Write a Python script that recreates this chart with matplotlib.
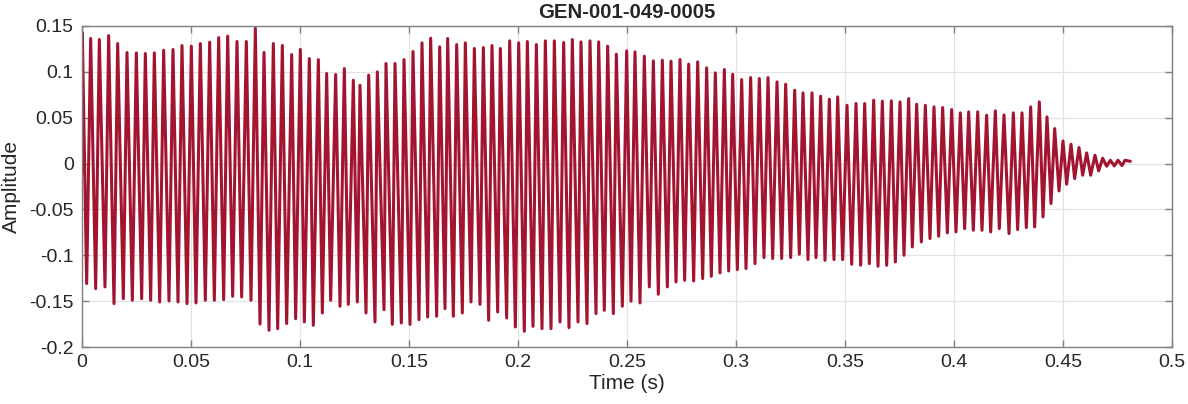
import matplotlib
matplotlib.use("Agg")
import matplotlib.pyplot as plt
import numpy as np

title = "GEN-001-049-0005"
x_label = "Time (s)"
y_label = "Amplitude"

start_time = [0.0]
start_amp = [-0.010]

peak_times = [
    0.00015, 0.00398, 0.00795, 0.01223, 0.01636, 0.02064, 0.02492, 0.02905, 0.03318, 0.03746,
    0.04174, 0.04587, 0.05015, 0.05428, 0.05856, 0.06269, 0.06682, 0.07110, 0.07538, 0.07951,
    0.08349, 0.08777, 0.09189, 0.09618, 0.10015, 0.10428, 0.10841, 0.11223, 0.11636, 0.12034,
    0.12446, 0.12752, 0.13150, 0.13547, 0.13945, 0.14358, 0.14771, 0.15183, 0.15596, 0.15994,
    0.16407, 0.16774, 0.17187, 0.17584, 0.17997, 0.18410, 0.18807, 0.19190, 0.19618, 0.20031,
    0.20428, 0.20841, 0.21254, 0.21667, 0.22095, 0.22492, 0.22890, 0.23303, 0.23700, 0.24113,
    0.24511, 0.24985, 0.25367, 0.25795, 0.26208, 0.26621, 0.27018, 0.27431, 0.27829, 0.28242,
    0.28654, 0.29052, 0.29465, 0.29847, 0.30260, 0.30673, 0.31070, 0.31468, 0.31881, 0.32278,
    0.32691, 0.33073, 0.33486, 0.33884, 0.34281, 0.34664, 0.35092, 0.35505, 0.35902, 0.36315,
    0.36713, 0.37125, 0.37523, 0.37920, 0.38287, 0.38685, 0.39083, 0.39480, 0.39893, 0.40291,
    0.40673, 0.41086, 0.41498, 0.41896, 0.42294, 0.42722, 0.43119, 0.43517, 0.43914, 0.44266,
    0.44618, 0.45000, 0.45367, 0.45734, 0.46086, 0.46468, 0.46820, 0.47171, 0.47523, 0.47844,
]
peak_amps = [
    0.1425, 0.1364, 0.1353, 0.1396, 0.1309, 0.1211, 0.1207, 0.1200, 0.1207, 0.1236,
    0.1244, 0.1287, 0.1280, 0.1309, 0.1324, 0.1374, 0.1389, 0.1331, 0.1331, 0.1476,
    0.1211, 0.1309, 0.1287, 0.1189, 0.1244, 0.1145, 0.1134, 0.0982, 0.0971, 0.1036,
    0.0909, 0.0854, 0.0964, 0.1000, 0.1091, 0.1091, 0.1134, 0.1222, 0.1316, 0.1367,
    0.1273, 0.1364, 0.1298, 0.1316, 0.1255, 0.1265, 0.1287, 0.1255, 0.1338, 0.1316,
    0.1331, 0.1298, 0.1338, 0.1338, 0.1320, 0.1353, 0.1327, 0.1338, 0.1327, 0.1280,
    0.1193, 0.1229, 0.1218, 0.1171, 0.1120, 0.1127, 0.1116, 0.1134, 0.1084, 0.1109,
    0.1044, 0.0989, 0.1025, 0.0974, 0.0916, 0.0938, 0.0927, 0.0938, 0.0891, 0.0865,
    0.0800, 0.0771, 0.0771, 0.0735, 0.0702, 0.0727, 0.0636, 0.0655, 0.0655, 0.0691,
    0.0680, 0.0684, 0.0673, 0.0709, 0.0647, 0.0636, 0.0618, 0.0611, 0.0589, 0.0553,
    0.0564, 0.0564, 0.0527, 0.0575, 0.0530, 0.0553, 0.0553, 0.0618, 0.0673, 0.0509,
    0.0382, 0.0247, 0.0211, 0.0175, 0.0116, 0.0091, 0.0058, 0.0036, 0.0036, 0.0036,
]

trough_times = [
    0.00214, 0.00627, 0.01055, 0.01468, 0.01896, 0.02309, 0.02737, 0.03150, 0.03563, 0.03991,
    0.04404, 0.04817, 0.05229, 0.05657, 0.06070, 0.06498, 0.06911, 0.07324, 0.07752, 0.08165,
    0.08578, 0.08976, 0.09388, 0.09801, 0.10199, 0.10612, 0.11024, 0.11407, 0.11835, 0.12217,
    0.12630, 0.13028, 0.13440, 0.13853, 0.14235, 0.14648, 0.15046, 0.15459, 0.15856, 0.16269,
    0.16651, 0.17034, 0.17446, 0.17844, 0.18257, 0.18654, 0.19067, 0.19480, 0.19878, 0.20290,
    0.20688, 0.21101, 0.21514, 0.21927, 0.22339, 0.22752, 0.23165, 0.23578, 0.23960, 0.24373,
    0.24786, 0.25183, 0.25596, 0.26024, 0.26437, 0.26850, 0.27248, 0.27645, 0.28058, 0.28471,
    0.28868, 0.29266, 0.29664, 0.30061, 0.30459, 0.30872, 0.31284, 0.31682, 0.32095, 0.32508,
    0.32905, 0.33303, 0.33670, 0.34083, 0.34495, 0.34893, 0.35306, 0.35719, 0.36116, 0.36514,
    0.36912, 0.37309, 0.37706, 0.38089, 0.38502, 0.38899, 0.39297, 0.39694, 0.40092, 0.40489,
    0.40887, 0.41284, 0.41682, 0.42079, 0.42523, 0.42920, 0.43318, 0.43700, 0.44083, 0.44450,
    0.44817, 0.45168, 0.45535, 0.45902, 0.46269, 0.46636, 0.47003, 0.47355, 0.47706,
]
trough_amps = [
    -0.1309, -0.1364, -0.1345, -0.1527, -0.1473, -0.1491, -0.1473, -0.1491, -0.1509, -0.1498,
    -0.1509, -0.1527, -0.1520, -0.1491, -0.1491, -0.1484, -0.1447, -0.1455, -0.1491, -0.1750,
    -0.1818, -0.1800, -0.1745, -0.1691, -0.1727, -0.1764, -0.1629, -0.1491, -0.1556, -0.1535,
    -0.1509, -0.1629, -0.1727, -0.1593, -0.1753, -0.1738, -0.1753, -0.1702, -0.1673, -0.1665,
    -0.1582, -0.1665, -0.1629, -0.1509, -0.1535, -0.1709, -0.1618, -0.1684, -0.1782, -0.1829,
    -0.1775, -0.1800, -0.1800, -0.1727, -0.1789, -0.1727, -0.1745, -0.1636, -0.1600, -0.1636,
    -0.1556, -0.1500, -0.1520, -0.1345, -0.1425, -0.1345, -0.1291, -0.1273, -0.1280, -0.1254,
    -0.1229, -0.1193, -0.1171, -0.1156, -0.1145, -0.1091, -0.1025, -0.1036, -0.1036, -0.1025,
    -0.0989, -0.1047, -0.1025, -0.1055, -0.1047, -0.1047, -0.1098, -0.1109, -0.1091, -0.1120,
    -0.1109, -0.1073, -0.1000, -0.0909, -0.0855, -0.0818, -0.0793, -0.0756, -0.0745, -0.0709,
    -0.0727, -0.0727, -0.0745, -0.0710, -0.0764, -0.0720, -0.0698, -0.0691, -0.0582, -0.0436,
    -0.0298, -0.0225, -0.0164, -0.0127, -0.0127, -0.0080, -0.0029, -0.0025, -0.0022,
]

end_time = [0.48073]
end_amp = [0.0025]

x_ticks = [0, 0.05, 0.1, 0.15, 0.2, 0.25, 0.3, 0.35, 0.4, 0.45, 0.5]
x_tick_labels = ["0", "0.05", "0.1", "0.15", "0.2", "0.25", "0.3", "0.35", "0.4", "0.45", "0.5"]
y_ticks = [-0.2, -0.15, -0.1, -0.05, 0, 0.05, 0.1, 0.15]
y_tick_labels = ["-0.2", "-0.15", "-0.1", "-0.05", "0", "0.05", "0.1", "0.15"]

# merge extremes in time order
t_all = np.array(start_time + peak_times + trough_times + end_time)
a_all = np.array(start_amp + peak_amps + trough_amps + end_amp)
order = np.argsort(t_all)
t_all = t_all[order]
a_all = a_all[order]

plt.rcParams['font.family'] = ['Liberation Sans', 'DejaVu Sans']

fig = plt.figure(figsize=(11.88, 4.04), dpi=100)
ax = fig.add_axes([82 / 1188, 1 - 347 / 404, (1172 - 82) / 1188, (347 - 26) / 404])

ax.plot(t_all, a_all, color="#A2142F", linewidth=2.2, solid_joinstyle="round")

ax.set_xlim(0, 0.5)
ax.set_ylim(-0.2, 0.15)
ax.set_xticks(x_ticks)
ax.set_xticklabels(x_tick_labels)
ax.set_yticks(y_ticks)
ax.set_yticklabels(y_tick_labels)

ax.grid(True, color="#e3e3e3", linewidth=0.9)
ax.set_axisbelow(True)
for s in ax.spines.values():
    s.set_color("#808080")
    s.set_linewidth(1.0)
ax.tick_params(direction="in", length=5, width=1, color="#808080", labelcolor="#262626",
               labelsize=14, top=True, right=True)
ax.tick_params(axis="y", pad=6)
ax.tick_params(axis="x", pad=5)

ax.set_xlabel(x_label, fontsize=15, color="#262626", labelpad=2)
ax.set_ylabel(y_label, fontsize=15, color="#262626", labelpad=6)
ax.set_title(title, fontsize=14.7, fontweight="bold", color="#262626", pad=6)

fig.savefig("out.png", dpi=100, facecolor="white")
